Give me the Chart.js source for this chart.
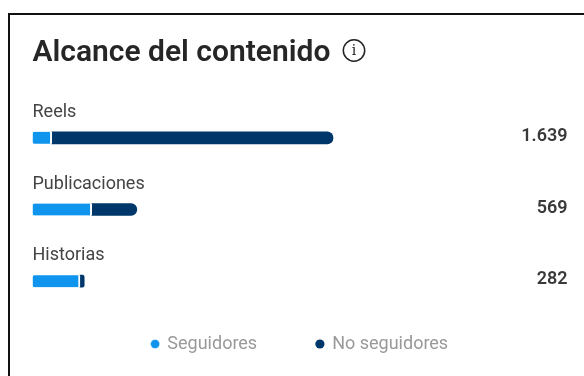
<!DOCTYPE html>
<html>
<head>
<meta charset="utf-8">
<script src="https://cdn.jsdelivr.net/npm/chart.js@4"></script>
<style>
    html, body { margin: 0; padding: 0; background: #fff; overflow: hidden; }
    #frame {
        position: absolute; left: 8px; top: 13px; width: 600px; height: 400px;
        border: 2px solid #111; box-sizing: border-box;
    }
    #chart { position: absolute; left: 0; top: 0; }
</style>
</head>
<body>
<div id="frame"></div>
<canvas id="chart" width="584" height="376"></canvas>
<script>
const categories = ['Reels', 'Publicaciones', 'Historias'];
const seguidores = [105, 323, 259];
const noSeguidores = [1534, 246, 23];
const totalLabels = ['1.639', '569', '282'];

const AZUL = '#0f95ee';
const MARINO = '#00376b';
const FUENTE = 'Roboto, sans-serif';
const LEGEND_GAP = 59.5;

// row names above each bar, totals at the right, info icon next to the title
const rowText = {
    id: 'rowText',
    afterDraw(chart) {
        const ctx = chart.ctx;
        const area = chart.chartArea;
        const y = chart.scales.y;
        ctx.save();
        ctx.textBaseline = 'middle';
        categories.forEach((name, i) => {
            const cy = y.getPixelForValue(i);
            ctx.textAlign = 'left';
            ctx.font = '400 18px ' + FUENTE;
            ctx.fillStyle = '#444';
            ctx.fillText(name, area.left, cy - 25.5);
            ctx.textAlign = 'right';
            ctx.font = '600 18px ' + FUENTE;
            ctx.fillStyle = '#3a3a3a';
            ctx.fillText(totalLabels[i], area.right, cy - 1.5);
        });
        ctx.strokeStyle = '#222';
        ctx.lineWidth = 1.5;
        ctx.beginPath();
        ctx.arc(354, 50.5, 10.7, 0, Math.PI * 2);
        ctx.stroke();
        ctx.textAlign = 'center';
        ctx.font = '400 14px "DejaVu Serif", serif';
        ctx.fillStyle = '#222';
        ctx.fillText('i', 354, 51);
        ctx.restore();
    }
};

// labels.padding is also added above and below the legend, so shrink the box
// and lift it back up to keep the wide gap between items
const legendFit = {
    id: 'legendFit',
    beforeInit(chart) {
        const fit = chart.legend.fit;
        chart.legend.fit = function () {
            fit.call(this);
            this.height = 59;
        };
    },
    afterLayout(chart) {
        chart.legend.top = 335 - LEGEND_GAP;
    }
};

new Chart(document.getElementById('chart'), {
    type: 'bar',
    data: {
        labels: categories,
        datasets: [
            {
                label: 'Seguidores',
                data: seguidores,
                backgroundColor: AZUL,
                borderColor: '#fff',
                borderWidth: { right: 2 },
                borderSkipped: false,
                borderRadius: { topLeft: 2, bottomLeft: 2 },
                barThickness: 12,
            },
            {
                label: 'No seguidores',
                data: noSeguidores,
                backgroundColor: MARINO,
                borderWidth: 0,
                borderRadius: { topRight: 6, bottomRight: 6 },
                borderSkipped: false,
                barThickness: 12,
            },
        ],
    },
    options: {
        indexAxis: 'y',
        responsive: false,
        animation: false,
        layout: { padding: { left: 32.5, right: 16.5, top: 0, bottom: 0 } },
        scales: {
            x: { stacked: true, display: false, min: 0, max: 2918 },
            y: { stacked: true, display: false },
        },
        plugins: {
            tooltip: { enabled: false },
            title: {
                display: true,
                text: 'Alcance del contenido',
                align: 'start',
                color: '#262626',
                font: { family: FUENTE, size: 30, weight: '600' },
                padding: { top: 35, bottom: 31 },
            },
            legend: {
                position: 'bottom',
                labels: {
                    usePointStyle: true,
                    pointStyle: 'circle',
                    boxWidth: 6.5,
                    boxHeight: 6.5,
                    padding: LEGEND_GAP,
                    color: '#999',
                    font: { family: FUENTE, size: 18 },
                },
            },
        },
    },
    plugins: [rowText, legendFit],
});
</script>
</body>
</html>
